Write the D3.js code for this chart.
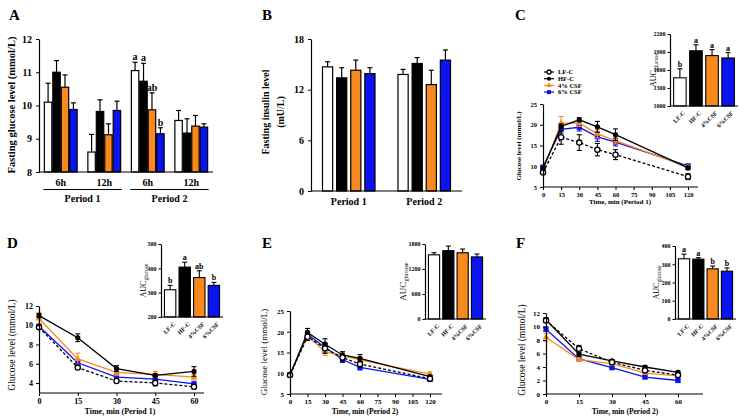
<!DOCTYPE html>
<html>
<head>
<meta charset="utf-8">
<script src="https://cdn.jsdelivr.net/npm/d3@7"></script>
<style>
  body { margin: 0; background: #fff; }
  svg text { font-family: "Liberation Serif", "Times New Roman", serif; fill: #000; }
</style>
</head>
<body>
<svg id="fig" width="745" height="420"></svg>
<script>
// ---- shared groups ----
const groups = ['LF-C', 'HF-C', '4% CSF', '6% CSF'];
const groupTicks = ['LF-C', 'HF-C', '4%CSF', '6%CSF'];
const barFill = ['#ffffff', '#000000', '#f7891e', '#0a14f0'];
const lineColor = ['#000000', '#000000', '#f7891e', '#0a14f0'];
const symbols = ['circleOpen', 'circle', 'triangle', 'square'];

// ---- A: fasting glucose ----
const glucoseSlots = ['6h', '12h', '6h', '12h'];
const glucosePeriods = ['Period 1', 'Period 2'];
const glucoseMean = [
  [10.1, 11.0, 10.55, 9.88],
  [8.6, 9.82, 9.12, 9.85],
  [11.05, 10.73, 9.87, 9.15],
  [9.55, 9.17, 9.38, 9.35]
];
const glucoseSem = [
  [0.57, 0.35, 0.37, 0.2],
  [0.53, 0.35, 0.33, 0.28],
  [0.25, 0.54, 0.51, 0.18],
  [0.3, 0.43, 0.32, 0.1]
];
const glucoseLetters = [[], [], ['a', 'a', 'ab', 'b'], []];

// ---- B: fasting insulin ----
const insulinPeriods = ['Period 1', 'Period 2'];
const insulinMean = [
  [14.7, 13.4, 14.3, 13.9],
  [13.8, 15.1, 12.6, 15.5]
];
const insulinSem = [
  [0.6, 1.2, 1.2, 0.7],
  [0.6, 0.7, 1.7, 1.2]
];

// ---- C: OGTT period 1 ----
const timeC = [0, 15, 30, 45, 60, 120];
const meanC = [
  [8.5, 17.0, 15.7, 14.0, 12.8, 7.5],
  [9.5, 19.6, 21.2, 19.5, 17.6, 9.6],
  [9.0, 20.4, 20.4, 17.8, 16.2, 9.8],
  [9.8, 18.9, 19.4, 17.1, 15.8, 10.1]
];
const semC = [
  [0.4, 1.7, 1.9, 1.5, 1.2, 0.7],
  [0.3, 0.6, 0.5, 1.3, 1.4, 0.4],
  [0.3, 1.6, 0.8, 1.0, 0.8, 0.4],
  [0.3, 0.9, 0.9, 1.1, 0.9, 0.4]
];
const aucC = [1470, 1920, 1840, 1800];
const aucSemC = [150, 100, 100, 90];
const aucLettersC = ['b', 'a', 'a', 'a'];

// ---- D: ITT period 1 ----
const timeD = [0, 15, 30, 45, 60];
const meanD = [
  [9.8, 5.6, 4.2, 4.0, 3.6],
  [11.0, 8.7, 5.5, 4.8, 5.2],
  [10.7, 6.5, 5.1, 4.9, 4.6],
  [9.9, 6.1, 4.6, 4.4, 3.9]
];
const semD = [
  [0.2, 0.2, 0.15, 0.3, 0.2],
  [0.2, 0.4, 0.3, 0.15, 0.5],
  [0.6, 0.6, 0.3, 0.3, 0.3],
  [0.2, 0.2, 0.2, 0.2, 0.2]
];
const aucD = [312, 405, 362, 330];
const aucSemD = [18, 20, 28, 12];
const aucLettersD = ['b', 'a', 'ab', 'b'];

// ---- E: OGTT period 2 ----
const timeE = [0, 15, 30, 45, 60, 120];
const meanE = [
  [9.6, 18.8, 16.0, 13.8, 12.2, 8.7],
  [9.6, 19.8, 17.0, 14.4, 13.6, 9.2],
  [9.6, 19.0, 15.2, 14.2, 13.2, 9.8],
  [9.6, 19.4, 16.2, 13.3, 11.4, 8.5]
];
const semE = [
  [0.2, 0.9, 1.2, 0.8, 0.7, 0.3],
  [0.2, 1.0, 1.3, 0.8, 0.9, 0.3],
  [0.2, 1.1, 0.9, 0.7, 0.7, 0.5],
  [0.2, 0.8, 0.9, 0.7, 0.6, 0.3]
];
const aucE = [1540, 1640, 1590, 1490];
const aucSemE = [50, 110, 90, 70];
const aucLettersE = ['', '', '', ''];

// ---- F: ITT period 2 ----
const timeF = [0, 15, 30, 45, 60];
const meanF = [
  [10.9, 6.7, 4.7, 3.5, 2.8],
  [11.0, 5.9, 4.9, 4.0, 3.2],
  [8.4, 5.1, 4.5, 3.1, 2.7],
  [9.6, 5.2, 3.9, 2.5, 2.0]
];
const semF = [
  [0.3, 0.5, 0.2, 0.2, 0.2],
  [0.3, 0.3, 0.2, 0.2, 0.2],
  [0.6, 0.2, 0.2, 0.2, 0.2],
  [0.3, 0.2, 0.2, 0.2, 0.2]
];
const aucF = [330, 328, 275, 262];
const aucSemF = [25, 8, 15, 18];
const aucLettersF = ['a', 'a', 'b', 'b'];

const svg = d3.select('#fig');
const intFmt = d3.format('d');

/**
 * GraphPad look for an axis: outward ticks, bold serif labels.
 */
function styleAxis(sel, fontSize, bold = true) {
  sel.selectAll('path.domain').attr('stroke', '#000').attr('stroke-width', 1.2);
  sel.selectAll('.tick line').attr('stroke', '#000').attr('stroke-width', 1);
  sel.selectAll('.tick text')
    .attr('font-family', '"Liberation Serif", serif')
    .attr('font-size', fontSize)
    .attr('font-weight', bold ? 'bold' : 'normal')
    .attr('fill', '#000');
}

function panelLetter(letter, x, y) {
  svg.append('text')
    .attr('x', x)
    .attr('y', y)
    .attr('font-size', 15)
    .attr('font-weight', 'bold')
    .text(letter);
}

function rotatedLabel(text, x, y, size, bold) {
  return svg.append('text')
    .attr('transform', `translate(${x},${y}) rotate(-90)`)
    .attr('text-anchor', 'middle')
    .attr('font-size', size)
    .attr('font-weight', bold ? 'bold' : 'normal')
    .text(text);
}

/**
 * Grouped bars with upward-only SEM whiskers.
 */
function drawGroupedBars(layout, slots, means, sems, letters) {
  const { x0, x1, y0, y1, domain, ticks, tickSize, padInner, barPad } = layout;
  const y = d3.scaleLinear().domain(domain).range([y0, y1]);
  const gx = d3.scaleBand().domain(d3.range(slots.length)).range([x0, x1])
    .paddingInner(padInner).paddingOuter(padInner / 2);
  const sx = d3.scaleBand().domain(d3.range(groups.length)).range([0, gx.bandwidth()])
    .padding(barPad);

  const g = svg.append('g');
  slots.forEach((slot, i) => {
    const sg = g.append('g').attr('transform', `translate(${gx(i)},0)`);
    means[i].forEach((m, k) => {
      const cx = sx(k) + sx.bandwidth() / 2;
      const top = y(m + sems[i][k]);
      sg.append('line')
        .attr('x1', cx).attr('x2', cx)
        .attr('y1', y(m)).attr('y2', top)
        .attr('stroke', '#000').attr('stroke-width', 1.2);
      sg.append('line')
        .attr('x1', cx - 2.5).attr('x2', cx + 2.5)
        .attr('y1', top).attr('y2', top)
        .attr('stroke', '#000').attr('stroke-width', 1.2);
      sg.append('rect')
        .attr('x', sx(k))
        .attr('y', y(m))
        .attr('width', sx.bandwidth())
        .attr('height', y0 - y(m))
        .attr('fill', barFill[k])
        .attr('stroke', '#000')
        .attr('stroke-width', 1.2);
      if (letters && letters[i] && letters[i][k]) {
        sg.append('text')
          .attr('x', cx)
          .attr('y', top - 2)
          .attr('text-anchor', 'middle')
          .attr('font-size', 10)
          .attr('font-weight', 'bold')
          .text(letters[i][k]);
      }
    });
  });

  svg.append('g')
    .attr('transform', `translate(${x0},0)`)
    .call(d3.axisLeft(y).tickValues(ticks).tickFormat(intFmt)
      .tickSize(3).tickSizeOuter(0).tickPadding(4))
    .call(s => styleAxis(s, tickSize));
  svg.append('line')
    .attr('x1', x0).attr('x2', x1)
    .attr('y1', y0).attr('y2', y0)
    .attr('stroke', '#000').attr('stroke-width', 1.2);

  return gx;
}

function drawMarker(g, type, cx, cy, color, r) {
  if (type === 'circleOpen') {
    g.append('circle').attr('cx', cx).attr('cy', cy).attr('r', r)
      .attr('fill', '#fff').attr('stroke', color).attr('stroke-width', 1.3);
  } else if (type === 'circle') {
    g.append('circle').attr('cx', cx).attr('cy', cy).attr('r', r).attr('fill', color);
  } else if (type === 'triangle') {
    g.append('path')
      .attr('transform', `translate(${cx},${cy})`)
      .attr('d', d3.symbol(d3.symbolTriangle, r * r * 3)())
      .attr('fill', color);
  } else {
    g.append('rect').attr('x', cx - r).attr('y', cy - r)
      .attr('width', 2 * r).attr('height', 2 * r).attr('fill', color);
  }
}

/**
 * Glucose curves with two-sided SEM whiskers.
 */
function drawCurves(layout, times, means, sems) {
  const { x0, x1, xEnd, y0, y1, xDomain, yDomain, xTicks, yTicks, tickSize } = layout;
  const x = d3.scaleLinear().domain(xDomain).range([x0, x1]);
  const y = d3.scaleLinear().domain(yDomain).range([y0, y1]);
  const g = svg.append('g');
  const line = d3.line().x((d, i) => x(times[i])).y(d => y(d));

  // back to front: blue, orange, black, LF-C
  [3, 2, 1, 0].forEach(k => {
    const sg = g.append('g');
    means[k].forEach((m, i) => {
      const cx = x(times[i]);
      const lo = y(m - sems[k][i]);
      const hi = y(m + sems[k][i]);
      sg.append('line').attr('x1', cx).attr('x2', cx).attr('y1', lo).attr('y2', hi)
        .attr('stroke', lineColor[k]).attr('stroke-width', 1.1);
      [lo, hi].forEach(v => {
        sg.append('line').attr('x1', cx - 2.5).attr('x2', cx + 2.5).attr('y1', v).attr('y2', v)
          .attr('stroke', lineColor[k]).attr('stroke-width', 1.1);
      });
    });
    sg.append('path')
      .attr('d', line(means[k]))
      .attr('fill', 'none')
      .attr('stroke', lineColor[k])
      .attr('stroke-width', 1.3)
      .attr('stroke-dasharray', k === 0 ? '3,2' : null);
    means[k].forEach((m, i) => drawMarker(sg, symbols[k], x(times[i]), y(m), lineColor[k], 2.6));
  });

  svg.append('g')
    .attr('transform', `translate(0,${y0})`)
    .call(d3.axisBottom(x).tickValues(xTicks).tickFormat(intFmt)
      .tickSize(3).tickSizeOuter(0).tickPadding(2))
    .call(s => s.select('.domain').remove())
    .call(s => styleAxis(s, tickSize));
  svg.append('line').attr('x1', x0).attr('x2', xEnd).attr('y1', y0).attr('y2', y0)
    .attr('stroke', '#000').attr('stroke-width', 1.2);
  svg.append('g')
    .attr('transform', `translate(${x0},0)`)
    .call(d3.axisLeft(y).tickValues(yTicks).tickFormat(intFmt)
      .tickSize(3).tickSizeOuter(0).tickPadding(3))
    .call(s => styleAxis(s, tickSize));
}

/**
 * Small AUC bar chart in the top right corner of a curve panel.
 */
function drawAuc(layout, values, sems, letters) {
  const { x0, x1, y0, y1, domain, ticks, labelX, labelSize } = layout;
  const y = d3.scaleLinear().domain(domain).range([y0, y1]);
  const x = d3.scaleBand().domain(d3.range(values.length)).range([x0 + 2, x1])
    .paddingInner(0.22).paddingOuter(0.1);
  const g = svg.append('g');
  values.forEach((v, k) => {
    const cx = x(k) + x.bandwidth() / 2;
    const top = y(v + sems[k]);
    g.append('line').attr('x1', cx).attr('x2', cx).attr('y1', y(v)).attr('y2', top)
      .attr('stroke', '#000').attr('stroke-width', 1.1);
    g.append('line').attr('x1', cx - 2.5).attr('x2', cx + 2.5).attr('y1', top).attr('y2', top)
      .attr('stroke', '#000').attr('stroke-width', 1.1);
    g.append('rect')
      .attr('x', x(k)).attr('y', y(v))
      .attr('width', x.bandwidth()).attr('height', y0 - y(v))
      .attr('fill', barFill[k]).attr('stroke', '#000').attr('stroke-width', 1.1);
    if (letters[k]) {
      g.append('text').attr('x', cx).attr('y', top - 2)
        .attr('text-anchor', 'middle').attr('font-size', 8).attr('font-weight', 'bold')
        .text(letters[k]);
    }
    g.append('text')
      .attr('transform', `translate(${cx + 3},${y0 + 5}) rotate(-45)`)
      .attr('text-anchor', 'end')
      .attr('dy', '0.6em')
      .attr('font-size', 6)
      .attr('font-weight', 'bold')
      .text(groupTicks[k]);
  });
  svg.append('g')
    .attr('transform', `translate(${x0},0)`)
    .call(d3.axisLeft(y).tickValues(ticks).tickFormat(intFmt)
      .tickSize(2.5).tickSizeOuter(0).tickPadding(2))
    .call(s => styleAxis(s, 6));
  svg.append('line').attr('x1', x0).attr('x2', x1 + 2).attr('y1', y0).attr('y2', y0)
    .attr('stroke', '#000').attr('stroke-width', 1.1);

  const lab = svg.append('text')
    .attr('transform', `translate(${labelX},${(y0 + y1) / 2}) rotate(-90)`)
    .attr('text-anchor', 'middle')
    .attr('font-size', labelSize);
  lab.append('tspan').text('AUC');
  lab.append('tspan').attr('font-size', labelSize * 0.7).attr('dy', 2).text('glucose');
}

// ================= Panel A =================
panelLetter('A', 9, 20);
const gxA = drawGroupedBars(
  { x0: 39, x1: 213, y0: 172, y1: 39, domain: [8, 12], ticks: [8, 9, 10, 11, 12],
    tickSize: 10, padInner: 0.2, barPad: 0.12 },
  glucoseSlots, glucoseMean, glucoseSem, glucoseLetters
);
glucoseSlots.forEach((s, i) => {
  svg.append('text')
    .attr('x', gxA(i) + gxA.bandwidth() / 2).attr('y', 186)
    .attr('text-anchor', 'middle').attr('font-size', 10).attr('font-weight', 'bold')
    .text(s);
});
glucosePeriods.forEach((p, j) => {
  const a = gxA(j * 2);
  const b = gxA(j * 2 + 1) + gxA.bandwidth();
  svg.append('line').attr('x1', a).attr('x2', b).attr('y1', 189.5).attr('y2', 189.5)
    .attr('stroke', '#000').attr('stroke-width', 1.2);
  svg.append('text')
    .attr('x', (a + b) / 2).attr('y', 202)
    .attr('text-anchor', 'middle').attr('font-size', 10).attr('font-weight', 'bold')
    .text(p);
});
rotatedLabel('Fasting glucose level (mmol/L)', 15, 105, 10.5, true);

// ================= Panel B =================
panelLetter('B', 262, 20);
const gxB = drawGroupedBars(
  { x0: 311, x1: 462, y0: 191, y1: 39, domain: [0, 18], ticks: [0, 6, 12, 18],
    tickSize: 10, padInner: 0.2, barPad: 0.28 },
  insulinPeriods, insulinMean, insulinSem, null
);
insulinPeriods.forEach((p, i) => {
  svg.append('text')
    .attr('x', gxB(i) + gxB.bandwidth() / 2).attr('y', 205)
    .attr('text-anchor', 'middle').attr('font-size', 10).attr('font-weight', 'bold')
    .text(p);
});
rotatedLabel('Fasting insulin level', 269, 112, 10, true);
rotatedLabel('(mU/L)', 284, 112, 10, true);

// ================= Panel C =================
panelLetter('C', 515, 20);
drawCurves(
  { x0: 543, x1: 688, xEnd: 698, y0: 187, y1: 104, xDomain: [0, 120], yDomain: [5, 25],
    xTicks: [0, 15, 30, 45, 60, 75, 90, 105, 120], yTicks: [5, 10, 15, 20, 25], tickSize: 6.5 },
  timeC, meanC, semC
);
svg.append('text').attr('x', 620).attr('y', 204).attr('text-anchor', 'middle')
  .attr('font-size', 7).attr('font-weight', 'bold').text('Time, min (Period 1)');
rotatedLabel('Glucose level (mmol/L)', 521, 146, 7, true);
groups.forEach((name, k) => {
  const ly = 72 + k * 6.7;
  svg.append('line').attr('x1', 544).attr('x2', 554).attr('y1', ly).attr('y2', ly)
    .attr('stroke', lineColor[k]).attr('stroke-width', 1.2);
  drawMarker(svg, symbols[k], 549, ly, lineColor[k], 2);
  svg.append('text').attr('x', 558).attr('y', ly + 2.3)
    .attr('font-size', 6.5).attr('font-weight', 'bold').text(name);
});
drawAuc({ x0: 670, x1: 736, y0: 106, y1: 34, domain: [1000, 2200],
  ticks: [1000, 1300, 1600, 1900, 2200], labelX: 656, labelSize: 8 },
  aucC, aucSemC, aucLettersC);

// ================= Panel D =================
panelLetter('D', 7, 248);
drawCurves(
  { x0: 39, x1: 194, xEnd: 204, y0: 393, y1: 306, xDomain: [0, 60], yDomain: [2.96, 12],
    xTicks: [0, 15, 30, 45, 60], yTicks: [4, 6, 8, 10, 12], tickSize: 8 },
  timeD, meanD, semD
);
svg.append('text').attr('x', 120).attr('y', 414).attr('text-anchor', 'middle')
  .attr('font-size', 8).attr('font-weight', 'bold').text('Time, min (Period 1)');
rotatedLabel('Glucose level (mmol/L)', 15, 345, 9.5, false);
drawAuc({ x0: 161, x1: 221, y0: 317, y1: 244, domain: [200, 500],
  ticks: [200, 300, 400, 500], labelX: 146, labelSize: 8 },
  aucD, aucSemD, aucLettersD);

// ================= Panel E =================
panelLetter('E', 262, 248);
drawCurves(
  { x0: 290, x1: 430, xEnd: 442, y0: 394, y1: 311, xDomain: [0, 120], yDomain: [5, 25],
    xTicks: [0, 15, 30, 45, 60, 75, 90, 105, 120], yTicks: [5, 10, 15, 20, 25], tickSize: 7 },
  timeE, meanE, semE
);
svg.append('text').attr('x', 365).attr('y', 414).attr('text-anchor', 'middle')
  .attr('font-size', 7.5).attr('font-weight', 'bold').text('Time, min (Period 2)');
rotatedLabel('Glucose level (mmol/L)', 267, 352, 9, false);
drawAuc({ x0: 425, x1: 484, y0: 319, y1: 244, domain: [0, 1800],
  ticks: [0, 600, 1200, 1800], labelX: 406, labelSize: 9 },
  aucE, aucSemE, aucLettersE);

// ================= Panel F =================
panelLetter('F', 516, 248);
drawCurves(
  { x0: 546, x1: 678, xEnd: 703, y0: 394, y1: 313, xDomain: [0, 60], yDomain: [0, 12],
    xTicks: [0, 15, 30, 45, 60], yTicks: [0, 2, 4, 6, 8, 10, 12], tickSize: 7 },
  timeF, meanF, semF
);
svg.append('text').attr('x', 625).attr('y', 414).attr('text-anchor', 'middle')
  .attr('font-size', 7.5).attr('font-weight', 'bold').text('Time, min (Period 2)');
rotatedLabel('Glucose level (mmol/L)', 525, 350, 9.5, false);
drawAuc({ x0: 675, x1: 734, y0: 319, y1: 246, domain: [0, 400],
  ticks: [0, 100, 200, 300, 400], labelX: 659, labelSize: 8 },
  aucF, aucSemF, aucLettersF);
</script>
</body>
</html>
